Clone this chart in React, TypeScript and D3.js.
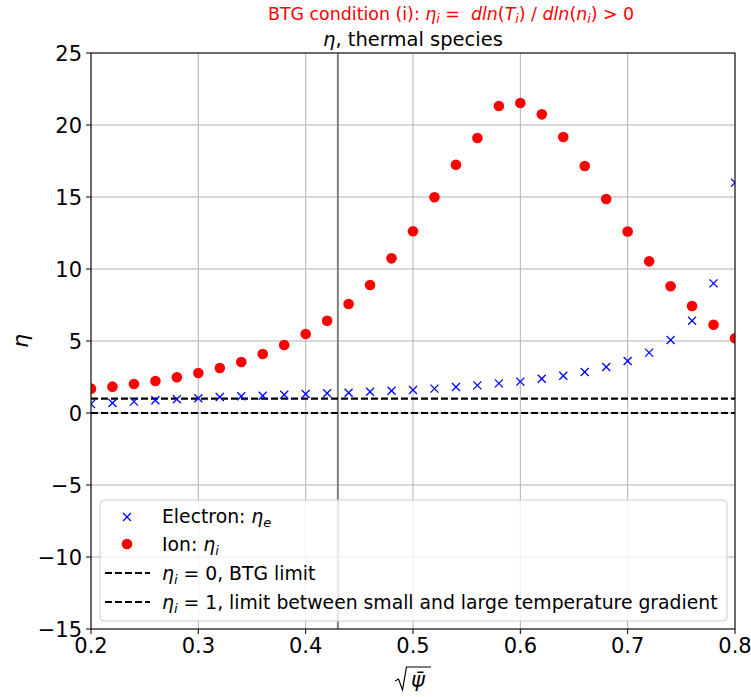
import React from "react";
import * as d3 from "d3";

const xs = [0.2, 0.22, 0.24, 0.26, 0.28, 0.3, 0.32, 0.34, 0.36, 0.38, 0.4, 0.42, 0.44, 0.46, 0.48, 0.5, 0.52, 0.54, 0.56, 0.58, 0.6, 0.62, 0.64, 0.66, 0.68, 0.7, 0.72, 0.74, 0.76, 0.78, 0.8];
const ionEta = [1.69, 1.83, 2.01, 2.22, 2.48, 2.78, 3.13, 3.54, 4.1, 4.72, 5.49, 6.41, 7.57, 8.89, 10.74, 12.62, 14.98, 17.24, 19.1, 21.32, 21.53, 20.74, 19.17, 17.15, 14.86, 12.6, 10.53, 8.8, 7.43, 6.13, 5.19];
const electronEta = [0.63, 0.69, 0.79, 0.88, 0.95, 1.02, 1.11, 1.16, 1.2, 1.27, 1.32, 1.37, 1.41, 1.48, 1.55, 1.6, 1.69, 1.8, 1.92, 2.06, 2.18, 2.38, 2.59, 2.85, 3.19, 3.61, 4.19, 5.07, 6.41, 9.0, 16.0];
const xTicks = [0.2, 0.3, 0.4, 0.5, 0.6, 0.7, 0.8];
const yTicks = [-15, -10, -5, 0, 5, 10, 15, 20, 25];
const hLines = [0, 1];
const vLine = 0.43;

const W = 751, H = 697;
const L = 91, R = 735, T = 53, B = 629;
const FONT = "DejaVu Sans, sans-serif";

export default function App() {
  const x = d3.scaleLinear().domain([0.2, 0.8]).range([L, R]);
  const y = d3.scaleLinear().domain([-15, 25]).range([B, T]);
  const fmtY = (v: number) => (v < 0 ? "\u2212" + Math.abs(v) : String(v));
  const lx = 100, ly = 500, lw = 627, lh = 121;
  const LF = 18.8;
  return (
    <svg width={W} height={H} style={{ position: "absolute", left: 0, top: 0, background: "#fff" }} fontFamily={FONT}>
      <defs>
        <clipPath id="plotclip">
          <rect x={L} y={T} width={R - L} height={B - T} />
        </clipPath>
      </defs>
      <rect x={0} y={0} width={W} height={H} fill="#fff" />
      {/* grid */}
      {xTicks.map((t) => (
        <line key={"gx" + t} x1={x(t)} x2={x(t)} y1={T} y2={B} stroke="#b0b0b0" strokeWidth={1} />
      ))}
      {yTicks.map((t) => (
        <line key={"gy" + t} x1={L} x2={R} y1={y(t)} y2={y(t)} stroke="#b0b0b0" strokeWidth={1} />
      ))}
      <g clipPath="url(#plotclip)">
        <line x1={x(vLine)} x2={x(vLine)} y1={T} y2={B} stroke="#808080" strokeWidth={2} />
        {hLines.map((v) => (
          <line key={"h" + v} x1={L} x2={R} y1={y(v)} y2={y(v)} stroke="#000" strokeWidth={2.2} strokeDasharray="7,3" />
        ))}
        {xs.map((v, i) => (
          <g key={"e" + i} stroke="#0000ff" strokeWidth={1.3}>
            <line x1={x(v) - 4} x2={x(v) + 4} y1={y(electronEta[i]) - 4} y2={y(electronEta[i]) + 4} />
            <line x1={x(v) - 4} x2={x(v) + 4} y1={y(electronEta[i]) + 4} y2={y(electronEta[i]) - 4} />
          </g>
        ))}
        {xs.map((v, i) => (
          <circle key={"i" + i} cx={x(v)} cy={y(ionEta[i])} r={5.3} fill="#ff0000" />
        ))}
      </g>
      {/* spines */}
      <rect x={L} y={T} width={R - L} height={B - T} fill="none" stroke="#000" strokeWidth={1} />
      {/* ticks */}
      {xTicks.map((t) => (
        <g key={"tx" + t}>
          <line x1={x(t)} x2={x(t)} y1={B} y2={B + 5} stroke="#000" />
          <text x={x(t)} y={B + 24} fontSize={21} textAnchor="middle">{t.toFixed(1)}</text>
        </g>
      ))}
      {yTicks.map((t) => (
        <g key={"ty" + t}>
          <line x1={L - 5} x2={L} y1={y(t)} y2={y(t)} stroke="#000" />
          <text x={L - 9} y={y(t) + 7.5} fontSize={21} textAnchor="end">{fmtY(t)}</text>
        </g>
      ))}
      {/* legend */}
      <rect x={lx} y={ly} width={lw} height={lh} rx={4} fill="#fff" fillOpacity={0.8} stroke="#cccccc" strokeWidth={1} />
      <g stroke="#0000ff" strokeWidth={1.3}>
        <line x1={123} x2={131} y1={513} y2={521} />
        <line x1={123} x2={131} y1={521} y2={513} />
      </g>
      <circle cx={127} cy={544} r={5.3} fill="#ff0000" />
      <line x1={105} x2={150} y1={573} y2={573} stroke="#000" strokeWidth={2.2} strokeDasharray="7,3" />
      <line x1={105} x2={150} y1={602} y2={602} stroke="#000" strokeWidth={2.2} strokeDasharray="7,3" />
      <text x={162} y={523} fontSize={LF}>Electron: <tspan fontStyle="italic">η</tspan><tspan fontStyle="italic" fontSize={13} dy={4}>e</tspan></text>
      <text x={162} y={551} fontSize={LF}>Ion: <tspan fontStyle="italic">η</tspan><tspan fontStyle="italic" fontSize={13} dy={4}>i</tspan></text>
      <text x={162} y={580} fontSize={LF}><tspan fontStyle="italic">η</tspan><tspan fontStyle="italic" fontSize={13} dy={4}>i</tspan><tspan dy={-4}> = 0, BTG limit</tspan></text>
      <text x={162} y={609} fontSize={LF}><tspan fontStyle="italic">η</tspan><tspan fontStyle="italic" fontSize={13} dy={4}>i</tspan><tspan dy={-4}> = 1, limit between small and large temperature gradient</tspan></text>
      {/* titles */}
      <text x={(L + R) / 2} y={46} fontSize={19.5} textAnchor="middle"><tspan fontStyle="italic">η</tspan>, thermal species</text>
      <text x={268} y={20} fontSize={17.4} fill="#ff0000" style={{ whiteSpace: "pre" }}>BTG condition (i): <tspan fontStyle="italic">η</tspan><tspan fontStyle="italic" fontSize={12.5} dy={3}>i</tspan><tspan dy={-3}>{" =\u00a0\u00a0"}</tspan><tspan fontStyle="italic">dln</tspan>(<tspan fontStyle="italic">T</tspan><tspan fontStyle="italic" fontSize={12.5} dy={3}>i</tspan><tspan dy={-3}>) / </tspan><tspan fontStyle="italic">dln</tspan>(<tspan fontStyle="italic">n</tspan><tspan fontStyle="italic" fontSize={12.5} dy={3}>i</tspan><tspan dy={-3}>) &gt; 0</tspan></text>
      {/* axis labels */}
      <text transform={`translate(28,${(T + B) / 2}) rotate(-90)`} fontSize={22} fontStyle="italic" textAnchor="middle">η</text>
      <g>
        <path d="M395,681 L398.5,679 L402.5,690 L406.5,667 L431,667" fill="none" stroke="#000" strokeWidth={1.2} />
        <text x={411} y={687} fontSize={21} fontStyle="italic">ψ̄</text>
      </g>
    </svg>
  );
}
